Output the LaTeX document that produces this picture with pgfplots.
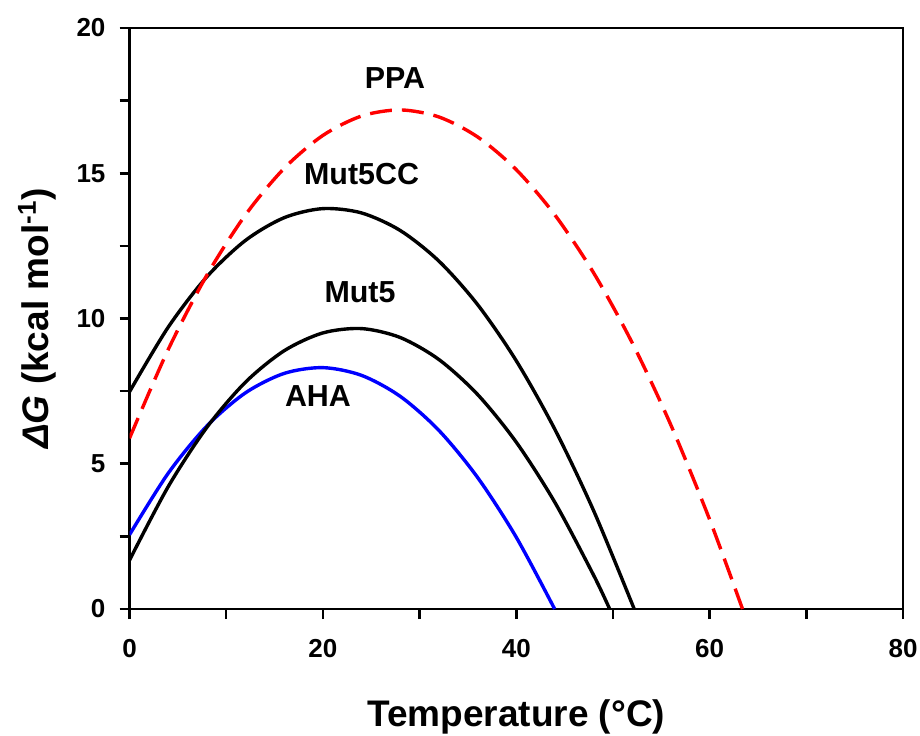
\documentclass[border=0pt]{standalone}
\usepackage{pgfplots}
\pgfplotsset{compat=1.18}
\usepackage{fontspec}
\setmainfont{Liberation Sans}

\begin{document}
\begin{tikzpicture}
\begin{axis}[
  scale only axis,
  width=386.75pt, height=290.5pt,
  xmin=0, xmax=80, ymin=0, ymax=20,
  xtick={0,20,40,60,80}, ytick={0,5,10,15,20},
  minor xtick={10,30,50,70}, minor ytick={2.5,7.5,12.5,17.5},
  tick align=outside,
  major tick length=5pt, minor tick length=5pt,
  xtick pos=bottom, ytick pos=left,
  axis line style={line width=1.3pt},
  tick style={line width=1.3pt, black},
  /pgf/number format/assume math mode=true,
  tick label style={font=\bfseries\fontsize{13}{15}\selectfont},
  xticklabel shift=6.5pt, yticklabel shift=3.5pt,
  xlabel={Temperature (°C)},
  ylabel={{\itshape ΔG} (kcal mol\textsuperscript{-1})},
  label style={font=\bfseries\fontsize{18.5}{22}\selectfont},
  xlabel style={at={(axis description cs:0.5,-0.2030)}, anchor=base},
  ylabel style={at={(axis description cs:-0.1196,0.5)}, anchor=center},
]
% AHA
\addplot[blue, line width=1.7pt, smooth] coordinates {
(0,2.556) (4,4.672) (8,6.299) (12,7.443) (16,8.111) (20,8.309) (24,8.043)
(28,7.321) (32,6.148) (36,4.529) (40,2.471) (43.97,0)};
% Mut5
\addplot[black, line width=1.7pt, smooth] coordinates {
(0,1.681) (4,4.211) (8,6.252) (12,7.810) (16,8.891) (20,9.504) (24,9.653)
(28,9.346) (32,8.588) (36,7.385) (40,5.743) (44,3.667) (48,1.164) (49.66,0)};
% Mut5CC
\addplot[black, line width=1.7pt, smooth] coordinates {
(0,7.477) (4,9.700) (8,11.436) (12,12.690) (16,13.471) (20,13.783) (24,13.634)
(28,13.030) (32,11.976) (36,10.480) (40,8.546) (44,6.179) (48,3.386) (52.2,0)};
% PPA
\addplot[red, line width=1.7pt, smooth, dash pattern=on 11pt off 5pt] coordinates {
(0,5.877) (4,8.930) (8,11.491) (12,13.570) (16,15.171) (20,16.302) (24,16.970)
(28,17.180) (32,16.938) (36,16.251) (40,15.124) (44,13.562) (48,11.572)
(52,9.158) (56,6.326) (60,3.080) (63.4,0)};

\node[font=\bfseries\fontsize{15.2}{18}\selectfont] at (axis cs:27.46,18.29) {PPA};
\node[font=\bfseries\fontsize{15.2}{18}\selectfont] at (axis cs:24.0,14.97) {Mut5CC};
\node[font=\bfseries\fontsize{15.2}{18}\selectfont] at (axis cs:23.84,10.92) {Mut5};
\node[font=\bfseries\fontsize{15.2}{18}\selectfont] at (axis cs:19.49,7.34) {AHA};

\coordinate (sw) at (rel axis cs:0,0);
\coordinate (ne) at (rel axis cs:1,1);
\end{axis}
\pgfresetboundingbox
\useasboundingbox ([xshift=-64.75pt,yshift=-63pt]sw) rectangle ([xshift=8.5pt,yshift=14pt]ne);
\end{tikzpicture}
\end{document}
